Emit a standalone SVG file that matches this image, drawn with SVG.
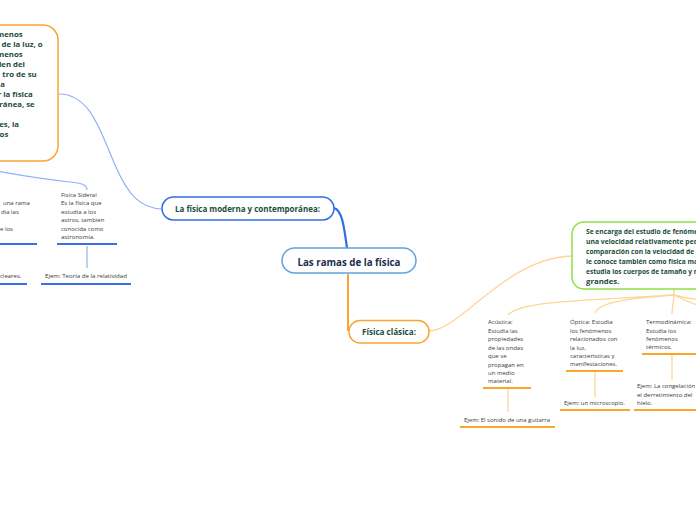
<svg xmlns="http://www.w3.org/2000/svg" width="696" height="520" viewBox="0 0 696 520">
<style>
.lbl{font-family:"Open Sans","Liberation Sans",sans-serif;font-weight:bold;fill:#1b4d3b}
.sm{font-family:"Open Sans","Liberation Sans",sans-serif;font-size:6px;fill:#3a3a3a}
.conB{fill:none;stroke:#2f6ce5;stroke-width:2.2;stroke-linecap:round}
.conBl{fill:none;stroke:#8fb3f3;stroke-width:1.2}
.conO{fill:none;stroke:#f8a630;stroke-width:2}
.conOl{fill:none;stroke:#fdd596;stroke-width:1.3}
.ulB{fill:none;stroke:#3a6fe6;stroke-width:2}
.ulO{fill:none;stroke:#f9a62c;stroke-width:2}
.box{fill:#fff;stroke-width:1.5}
</style>
<rect width="696" height="520" fill="#fff"/>
<g id="connectors">
<path class="conBl" d="M59,94 C90,94 100,130 115,165 C128,195 140,208 162,209"/>
<path class="conB" d="M334,208 C342,210 344,226 347,248"/>
<path class="conBl" d="M-30,166 C10,174 50,180 70,182 C82,183 87,185 87,190"/>
<path class="conBl" d="M87,246 V268"/>
<path class="conO" d="M348,274 V331"/>
<path class="conOl" d="M429,331 C460,331 505,258 572,256"/>
<path class="conOl" d="M674,288 V295"/>
<path class="conOl" d="M674,295 C600,300 520,300 508,315"/>
<path class="conOl" d="M674,295 C640,298 600,300 595,313"/>
<path class="conOl" d="M674,295 C674,302 672,306 672,314"/>
<path class="conOl" d="M674,295 C685,298 692,299 700,300"/>
<path class="conOl" d="M674,295 C686,301 694,304 700,306"/>
<path class="conOl" d="M508,389 V412"/>
<path class="conOl" d="M595,372 V397"/>
<path class="conOl" d="M672,355 V380"/>
</g>
<g id="central">
<rect class="box" x="282" y="248" width="134" height="25" rx="12.5" stroke="#5da2e3"/>
<text x="349" y="265.5" text-anchor="middle" font-family="Open Sans, Liberation Sans, sans-serif" font-weight="bold" font-size="10" fill="#1c2d4f" textLength="103" lengthAdjust="spacingAndGlyphs">Las ramas de la física</text>
</g>
<g id="moderna">
<rect class="box" x="162" y="197" width="172" height="23" rx="11.5" stroke="#2f6ce5"/>
<text class="lbl" x="175" y="212" font-size="8.3" textLength="145" lengthAdjust="spacingAndGlyphs">La física moderna y contemporánea:</text>
</g>
<g id="moderna-desc">
<rect class="box" x="-80" y="25" width="138" height="136" rx="15" stroke="#f8a630"/>
<g class="lbl" font-size="7.8" text-anchor="end">
<text x="22.7" y="37">menos</text>
<text x="42.7" y="47">de la luz, o</text>
<text x="22.7" y="57">ómenos</text>
<text x="25" y="67">den del</text>
<text x="36.7" y="77">tro de su</text>
<text x="5" y="87">a</text>
<text x="32.7" y="97">r la física</text>
<text x="34.7" y="107">ránea, se</text>
<text x="19" y="127">es, la</text>
<text x="8.3" y="137">os</text>
</g>
</g>
<g id="nuclear">
<text class="sm" x="3" y="205">una rama</text>
<text class="sm" x="1" y="213.5">dia las</text>
<text class="sm" x="0" y="231">e los</text>
<path class="ulB" d="M0,244 H37"/>
</g>
<g id="nuclear-ej">
<text class="sm" x="0" y="278">cleares.</text>
<path class="ulB" d="M0,284 H27"/>
</g>
<g id="sideral">
<text class="sm" x="61" y="197" textLength="35.7" lengthAdjust="spacingAndGlyphs">Física Sideral</text>
<text class="sm" x="61" y="205">Es la física que</text>
<text class="sm" x="61" y="213.7">estudia a los</text>
<text class="sm" x="61" y="222.3" textLength="43.3" lengthAdjust="spacingAndGlyphs">astros, tambien</text>
<text class="sm" x="61" y="230.7">conocida como</text>
<text class="sm" x="61" y="239.3">astronomía.</text>
<path class="ulB" d="M57,244 H117"/>
</g>
<g id="sideral-ej">
<text class="sm" x="45" y="278" textLength="82" lengthAdjust="spacingAndGlyphs">Ejem: Teoría de la relatividad</text>
<path class="ulB" d="M41,284 H131"/>
</g>
<g id="clasica">
<rect class="box" x="349" y="320.5" width="80" height="22.5" rx="11" stroke="#f8a630"/>
<text class="lbl" x="389" y="335" text-anchor="middle" font-size="8.5" textLength="54" lengthAdjust="spacingAndGlyphs">Física clásica:</text>
</g>
<g id="clasica-desc">
<rect class="box" x="572" y="222" width="170" height="67" rx="12" stroke="#90df45"/>
<g class="lbl" font-size="7.8">
<text x="586" y="234" textLength="112" lengthAdjust="spacingAndGlyphs">Se encarga del estudio de fenóme</text>
<text x="586" y="244" textLength="112" lengthAdjust="spacingAndGlyphs">una velocidad relativamente peq</text>
<text x="586" y="254" textLength="112" lengthAdjust="spacingAndGlyphs">comparación con la velocidad de l</text>
<text x="586" y="264" textLength="112" lengthAdjust="spacingAndGlyphs">le conoce también como física ma</text>
<text x="586" y="274" textLength="112" lengthAdjust="spacingAndGlyphs">estudia los cuerpos de tamaño y n</text>
<text x="586" y="284">grandes.</text>
</g>
</g>
<g id="acustica">
<text class="sm" x="488" y="324">Acústica:</text>
<text class="sm" x="488" y="332.5" textLength="29.7" lengthAdjust="spacingAndGlyphs">Estudia las</text>
<text class="sm" x="488" y="341">propiedades</text>
<text class="sm" x="488" y="349.5">de las ondas</text>
<text class="sm" x="488" y="358">que se</text>
<text class="sm" x="488" y="366.5">propagan en</text>
<text class="sm" x="488" y="375">un medio</text>
<text class="sm" x="488" y="383">material.</text>
<path class="ulO" d="M483,388 H531"/>
</g>
<g id="acustica-ej">
<text class="sm" x="464" y="422" textLength="86" lengthAdjust="spacingAndGlyphs">Ejem: El sonido de una guitarra</text>
<path class="ulO" d="M460,427 H555"/>
</g>
<g id="optica">
<text class="sm" x="570" y="324.3" textLength="42.7" lengthAdjust="spacingAndGlyphs">Óptica: Estudia</text>
<text class="sm" x="570" y="332.7">los fenómenos</text>
<text class="sm" x="570" y="341.3">relacionados con</text>
<text class="sm" x="570" y="349.7">la luz,</text>
<text class="sm" x="570" y="358">características y</text>
<text class="sm" x="570" y="366.3" textLength="47" lengthAdjust="spacingAndGlyphs">manifestaciones.</text>
<path class="ulO" d="M566,371 H623"/>
</g>
<g id="optica-ej">
<text class="sm" x="564" y="405" textLength="61" lengthAdjust="spacingAndGlyphs">Ejem: un microscopio.</text>
<path class="ulO" d="M560,410 H630"/>
</g>
<g id="termo">
<text class="sm" x="646" y="324" textLength="45.7" lengthAdjust="spacingAndGlyphs">Termodinámica:</text>
<text class="sm" x="646" y="332.7">Estudia los</text>
<text class="sm" x="646" y="341">fenómenos</text>
<text class="sm" x="646" y="349.3">térmicos.</text>
<path class="ulO" d="M642,354 H700"/>
</g>
<g id="termo-ej">
<text class="sm" x="637" y="388">Ejem: La congelación</text>
<text class="sm" x="637" y="396.7">el derretimiento del</text>
<text class="sm" x="637" y="405">hielo.</text>
<path class="ulO" d="M634,410 H700"/>
</g>
</svg>
